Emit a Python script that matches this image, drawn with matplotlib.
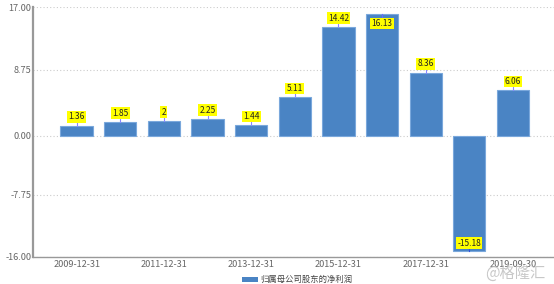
import matplotlib
matplotlib.use('Agg')
import matplotlib.pyplot as plt

plt.rcParams['font.family'] = ['Noto Sans CJK SC', 'DejaVu Sans']

# data
dates = ['2009-12-31', '2010-12-31', '2011-12-31', '2012-12-31', '2013-12-31',
         '2014-12-31', '2015-12-31', '2016-12-31', '2017-12-31', '2018-12-31',
         '2019-09-30']
profit = [1.36, 1.85, 2, 2.25, 1.44, 5.11, 14.42, 16.13, 8.36, -15.18, 6.06]
labels = ['1.36', '1.85', '2', '2.25', '1.44', '5.11', '14.42', '16.13',
          '8.36', '-15.18', '6.06']
yticks = [-16.0, -7.75, 0.0, 8.75, 17.0]

fig = plt.figure(figsize=(5.54, 2.84), dpi=100)
ax = fig.add_axes([33 / 554, 1 - 257 / 284, 1 - 33 / 554, (257 - 7.3) / 284])

x = list(range(len(dates)))
ax.bar(x, profit, width=0.74, color='#4a84c4', edgecolor='#7aa8dc',
       linewidth=0.8, zorder=3)

ax.set_xlim(-1.0, 10.94)
ax.set_ylim(-16, 17)
ax.set_yticks(yticks)
ax.set_yticklabels([f'{v:.2f}' for v in yticks])
ax.set_xticks(x[::2])
ax.set_xticklabels(dates[::2])
ax.tick_params(axis='both', labelsize=6.6, colors='#666666', length=0, pad=2)
ax.tick_params(axis='y', pad=1)

ax.grid(axis='y', linestyle=(0, (1, 2)), color='#cccccc', linewidth=0.8, zorder=0)
for s in ['top', 'right']:
    ax.spines[s].set_visible(False)
ax.spines['left'].set_color('#999999')
ax.spines['left'].set_linewidth(1.6)
ax.spines['bottom'].set_color('#999999')
ax.spines['bottom'].set_linewidth(1.0)
ax.spines['bottom'].set_position(('data', -16))

# value labels
box = dict(boxstyle='square,pad=0.15', facecolor='#ffff00', edgecolor='none')
for xi, v, t in zip(x, profit, labels):
    if v >= 16:
        ax.plot([xi, xi], [v, v - 0.4], color='#6a6aff', lw=0.8, zorder=4)
        ax.text(xi, v - 1.25, t, ha='center', va='center', fontsize=6,
                bbox=box, zorder=5, color='#222222')
    elif v < 0:
        ax.plot([xi, xi], [v, v + 0.8], color='#3050e0', lw=0.8, zorder=4)
        ax.text(xi, v + 1.0, t, ha='center', va='center', fontsize=6,
                bbox=box, zorder=5, color='#222222')
    else:
        ax.plot([xi, xi], [v, v + 0.7], color='#8888ff', lw=0.8, zorder=4)
        ax.text(xi, v + 1.15, t, ha='center', va='center', fontsize=6,
                bbox=box, zorder=5, color='#222222')

# legend
fig.patches.append(plt.Rectangle((242 / 554, 1 - 282 / 284), 16 / 554, 5 / 284,
                                 transform=fig.transFigure, facecolor='#4a84c4',
                                 edgecolor='none'))
fig.text(260 / 554, 1 - 279.5 / 284, '归属母公司股东的净利润', fontsize=6,
         color='#444444', va='center', ha='left')

# watermark
fig.text(545 / 554, 1 - 273 / 284, '@格隆汇', fontsize=11, color='#bbbbbb',
         ha='right', va='center', alpha=0.8)

fig.savefig('out.png', dpi=100)
